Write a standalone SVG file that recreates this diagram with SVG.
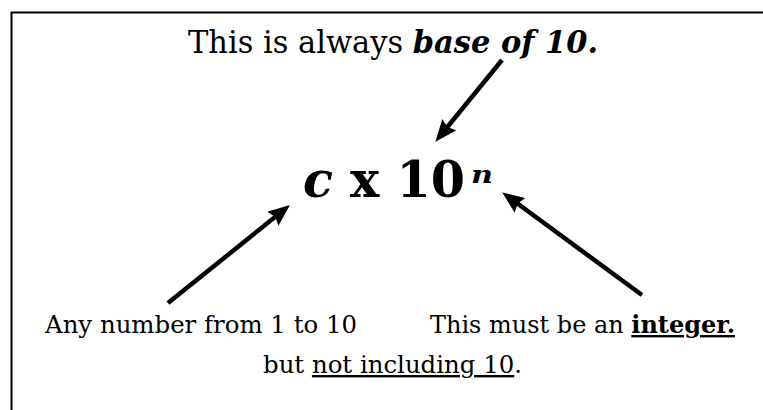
<svg xmlns="http://www.w3.org/2000/svg" width="763" height="410" viewBox="0 0 763 410">
  <style>
    text { font-family: "DejaVu Serif", "Liberation Serif", serif; fill: #000; }
    .bi { font-weight: bold; font-style: italic; }
    .b { font-weight: bold; }
    .u { text-decoration: underline; }
    .arrow { stroke: #000; stroke-width: 4.5; fill: none; marker-end: url(#head); }
  </style>
  <defs>
    <marker id="head" markerUnits="userSpaceOnUse" viewBox="0 0 22 18" refX="12" refY="9" markerWidth="22" markerHeight="18" orient="auto">
      <path d="M0,0 L22,9 L0,18 L3,9 Z" fill="#000"/>
    </marker>
  </defs>
  <rect width="763" height="410" fill="#fff"/>
  <path d="M11.5,410 V12.5 H763" fill="none" stroke="#000" stroke-width="2"/>

  <g id="title">
    <text x="188" y="53" font-size="32" textLength="410" lengthAdjust="spacingAndGlyphs">This is always <tspan class="bi">base of 10.</tspan></text>
  </g>
  <g id="formula">
    <text x="303" y="197" font-size="51" textLength="162" lengthAdjust="spacingAndGlyphs"><tspan class="bi">c</tspan><tspan class="b"> x 10</tspan></text>
    <text x="471" y="183" font-size="25" class="bi" textLength="22" lengthAdjust="spacingAndGlyphs">n</text>
  </g>
  <g id="left-label">
    <text x="45" y="333" font-size="24" textLength="312" lengthAdjust="spacingAndGlyphs">Any number from 1 to 10</text>
    <text x="263" y="373" font-size="24" textLength="259" lengthAdjust="spacingAndGlyphs">but <tspan class="u">not including 10</tspan>.</text>
  </g>
  <g id="right-label">
    <text x="430" y="333" font-size="24" textLength="305" lengthAdjust="spacingAndGlyphs">This must be an <tspan class="b u">integer.</tspan></text>
  </g>
  <g id="connectors">
    <line class="arrow" x1="502" y1="60" x2="441.7" y2="134"/>
    <line class="arrow" x1="168" y1="303" x2="282.2" y2="211.3"/>
    <line class="arrow" x1="642" y1="295" x2="510.3" y2="198.3"/>
  </g>
</svg>
